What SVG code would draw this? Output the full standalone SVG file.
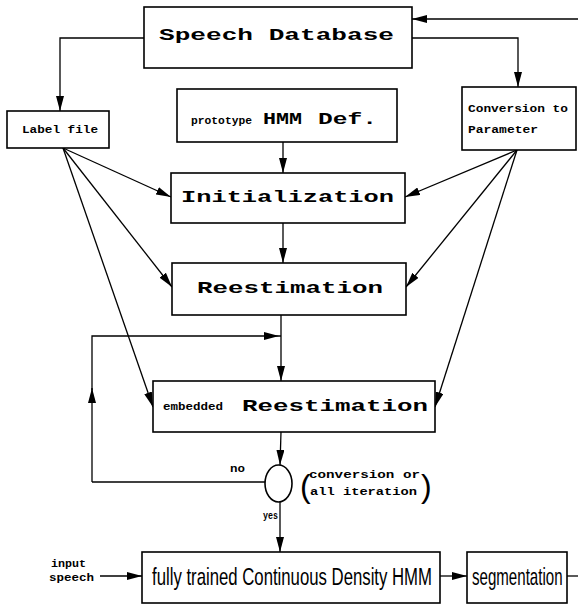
<svg xmlns="http://www.w3.org/2000/svg" width="578" height="606" viewBox="0 0 578 606">
<style>
.box{fill:#fff;stroke:#000;stroke-width:1.6}
.ln{fill:none;stroke:#000;stroke-width:1.3}
.mono{font-family:"Liberation Mono","DejaVu Sans Mono",monospace;font-weight:bold;fill:#000}
.cond{font-family:"Liberation Sans","DejaVu Sans",sans-serif;fill:#000}
</style>
<defs>
<marker id="ah" markerUnits="userSpaceOnUse" markerWidth="16" markerHeight="8" refX="15" refY="4" orient="auto">
<path d="M0,0 L15,4 L0,8 z" fill="#000"/>
</marker>
</defs>
<rect width="578" height="606" fill="#fff"/>
<g id="connectors">
<polyline class="ln" points="144,38 60,38 60,111" marker-end="url(#ah)"/>
<polyline class="ln" points="412,38 518,38 518,87" marker-end="url(#ah)"/>
<line class="ln" x1="578" y1="19" x2="412" y2="19" marker-end="url(#ah)"/>
<line class="ln" x1="283" y1="142" x2="283" y2="173" marker-end="url(#ah)"/>
<line class="ln" x1="283" y1="223" x2="283" y2="263" marker-end="url(#ah)"/>
<line class="ln" x1="281" y1="315" x2="281" y2="381" marker-end="url(#ah)"/>
<line class="ln" x1="265" y1="482" x2="92" y2="482"/>
<line class="ln" x1="92" y1="482" x2="92" y2="388" marker-end="url(#ah)"/>
<polyline class="ln" points="92,390 92,336 279,336" marker-end="url(#ah)"/>
<line class="ln" x1="279" y1="336" x2="281" y2="336"/>
<line class="ln" x1="281" y1="432" x2="280" y2="465" marker-end="url(#ah)"/>
<line class="ln" x1="280" y1="502" x2="280" y2="552" marker-end="url(#ah)"/>
<line class="ln" x1="100" y1="576" x2="142" y2="576" marker-end="url(#ah)"/>
<line class="ln" x1="440" y1="576" x2="467" y2="576" marker-end="url(#ah)"/>
<line class="ln" x1="567" y1="576" x2="578" y2="576"/>
<line class="ln" x1="63" y1="148" x2="171" y2="197" marker-end="url(#ah)"/>
<line class="ln" x1="63" y1="148" x2="172" y2="287" marker-end="url(#ah)"/>
<line class="ln" x1="63" y1="148" x2="153" y2="407" marker-end="url(#ah)"/>
<line class="ln" x1="517" y1="150" x2="405" y2="197" marker-end="url(#ah)"/>
<line class="ln" x1="517" y1="150" x2="406" y2="287" marker-end="url(#ah)"/>
<line class="ln" x1="517" y1="150" x2="435" y2="407" marker-end="url(#ah)"/>
</g>
<g id="speech-database">
<rect class="box" x="144" y="7" width="268" height="61"/>
<text class="mono" x="159" y="40" font-size="17" textLength="235" lengthAdjust="spacingAndGlyphs">Speech Database</text>
</g>
<g id="label-file">
<rect class="box" x="7" y="111" width="102" height="37"/>
<text class="mono" x="22" y="133" font-size="11" textLength="76" lengthAdjust="spacingAndGlyphs">Label file</text>
</g>
<g id="prototype">
<rect class="box" x="177" y="89" width="220" height="53"/>
<text class="mono" x="191" y="124" font-size="11" textLength="61" lengthAdjust="spacingAndGlyphs">prototype</text>
<text class="mono" x="263" y="124" font-size="16" textLength="39" lengthAdjust="spacingAndGlyphs">HMM</text>
<text class="mono" x="318" y="124" font-size="17" textLength="59" lengthAdjust="spacingAndGlyphs">Def.</text>
</g>
<g id="conversion">
<rect class="box" x="462" y="87" width="114" height="63"/>
<text class="mono" x="468" y="112" font-size="11" textLength="100" lengthAdjust="spacingAndGlyphs">Conversion to</text>
<text class="mono" x="468" y="133" font-size="11" textLength="70" lengthAdjust="spacingAndGlyphs">Parameter</text>
</g>
<g id="initialization">
<rect class="box" x="171" y="173" width="234" height="50"/>
<text class="mono" x="181" y="202" font-size="16" textLength="213" lengthAdjust="spacingAndGlyphs">Initialization</text>
</g>
<g id="reestimation">
<rect class="box" x="172" y="263" width="234" height="52"/>
<text class="mono" x="197" y="293" font-size="16" textLength="186" lengthAdjust="spacingAndGlyphs">Reestimation</text>
</g>
<g id="embedded-reestimation">
<rect class="box" x="153" y="381" width="282" height="51"/>
<text class="mono" x="163" y="410" font-size="11" textLength="60" lengthAdjust="spacingAndGlyphs">embedded</text>
<text class="mono" x="242" y="411" font-size="16" textLength="186" lengthAdjust="spacingAndGlyphs">Reestimation</text>
</g>
<g id="decision">
<ellipse class="box" cx="278.5" cy="483.5" rx="13.5" ry="18.5"/>
<text class="mono" x="230" y="472" font-size="11" textLength="15" lengthAdjust="spacingAndGlyphs">no</text>
<text class="mono" x="263" y="519" font-size="11" textLength="15" lengthAdjust="spacingAndGlyphs">yes</text>
<text class="cond" x="300" y="497" font-size="32">(</text>
<text class="mono" x="309" y="478" font-size="11" textLength="111" lengthAdjust="spacingAndGlyphs">conversion or</text>
<text class="mono" x="310" y="495" font-size="11" textLength="107" lengthAdjust="spacingAndGlyphs">all iteration</text>
<text class="cond" x="421" y="497" font-size="32">)</text>
</g>
<g id="input-speech">
<text class="mono" x="51" y="567" font-size="11" textLength="35" lengthAdjust="spacingAndGlyphs">input</text>
<text class="mono" x="49" y="581" font-size="11" textLength="45" lengthAdjust="spacingAndGlyphs">speech</text>
</g>
<g id="fully-trained">
<rect class="box" x="142" y="552" width="298" height="51"/>
<text class="cond" transform="translate(152,585) scale(0.7,1)" x="0" y="0" font-size="24" textLength="400" lengthAdjust="spacingAndGlyphs">fully trained Continuous Density HMM</text>
</g>
<g id="segmentation">
<rect class="box" x="467" y="552" width="100" height="51"/>
<text class="cond" transform="translate(472,585) scale(0.62,1)" x="0" y="0" font-size="24" textLength="146" lengthAdjust="spacingAndGlyphs">segmentation</text>
</g>
</svg>
